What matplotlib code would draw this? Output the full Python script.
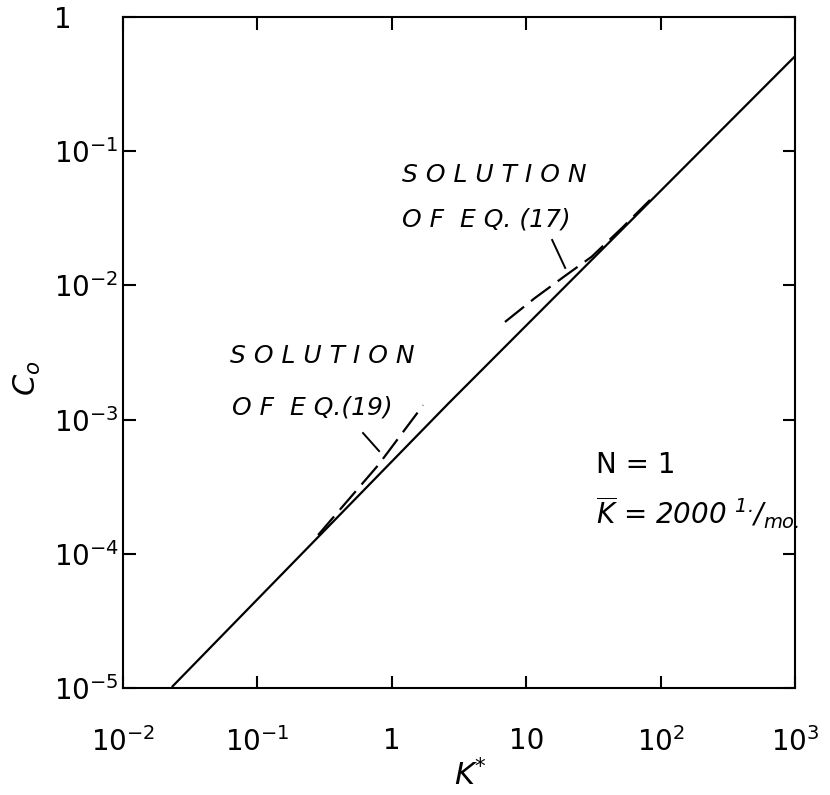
import numpy as np
import matplotlib.pyplot as plt

plt.rcParams['font.family'] = ['DejaVu Sans']
plt.rcParams['mathtext.default'] = 'regular'

# main curve
k_solid = [0.0234, 2.64, 1000]
c_solid = [1.03e-5, 1.32e-3, 0.51]

# dashed: solution of eq. (19)
k_eq19 = [0.283, 0.328, 0.794, 1.71]
c_eq19 = [1.38e-4, 1.64e-4, 4.59e-4, 1.28e-3]

# dashed: solution of eq. (17)
k_eq17 = [6.95, 11.6, 19.4, 30.7, 51.6, 83.4]
c_eq17 = [5.34e-3, 8.05e-3, 0.01175, 0.01636, 0.0268, 0.0433]

# leader strokes from labels to the dashed curves
lead19_k = [0.611, 0.804]
lead19_c = [7.94e-4, 5.83e-4]
lead17_k = [15.6, 19.5]
lead17_c = [0.0218, 0.0135]

xticks = [1e-2, 1e-1, 1, 10, 1e2, 1e3]
xlabels = [r'$10^{-2}$', r'$10^{-1}$', '1', '10', r'$10^{2}$', r'$10^{3}$']
yticks = [1e-5, 1e-4, 1e-3, 1e-2, 1e-1, 1]
ylabels = [r'$10^{-5}$', r'$10^{-4}$', r'$10^{-3}$', r'$10^{-2}$', r'$10^{-1}$', '1']

fig = plt.figure(figsize=(8.3, 7.95), dpi=100)
ax = fig.add_axes([123/830, 107/795, 672/830, 671/795])

ax.plot(k_solid, c_solid, color='black', lw=1.6)
ax.plot(k_eq19, c_eq19, color='black', lw=1.6, dashes=(11, 4))
ax.plot(k_eq17, c_eq17, color='black', lw=1.6, dashes=(11, 4))
ax.plot(lead19_k, lead19_c, color='black', lw=1.4)
ax.plot(lead17_k, lead17_c, color='black', lw=1.4)

ax.set_xscale('log')
ax.set_yscale('log')
ax.set_xlim(1e-2, 1e3)
ax.set_ylim(1e-5, 1)

ax.set_xticks(xticks)
ax.set_xticklabels(xlabels)
ax.set_yticks(yticks)
ax.set_yticklabels(ylabels, ha='left')
ax.minorticks_off()
ax.tick_params(which='major', direction='in', length=9, width=1.5,
               top=True, right=True, labelsize=20)
ax.tick_params(axis='x', pad=28)
ax.tick_params(axis='y', pad=50)
for s in ax.spines.values():
    s.set_linewidth(1.5)

# axis titles
fig.text(27/830, 1 - 378/795, r'$C_o$', rotation=90, fontsize=22,
         ha='center', va='center', style='italic')
fig.text(470/830, 1 - 775/795, r'$K^{*}$', fontsize=22,
         ha='center', va='center', style='italic')

# annotations
fs = 18
fig.text(230/830, 1 - 356/795, 'S O L U T I O N', fontsize=fs, style='italic', va='center')
fig.text(232/830, 1 - 407/795, 'O F  E Q.(19)', fontsize=fs, style='italic', va='center')
fig.text(402/830, 1 - 175/795, 'S O L U T I O N', fontsize=fs, style='italic', va='center')
fig.text(402/830, 1 - 220/795, 'O F  E Q. (17)', fontsize=fs, style='italic', va='center')

fig.text(596/830, 1 - 465/795, 'N = 1', fontsize=20, va='center')
fig.text(596/830, 1 - 513/795, r'$\overline{K}$ = 2000 $^{1.}\!/_{mo.}$', fontsize=20,
         style='italic', va='center')

plt.savefig('out.png', dpi=100)
